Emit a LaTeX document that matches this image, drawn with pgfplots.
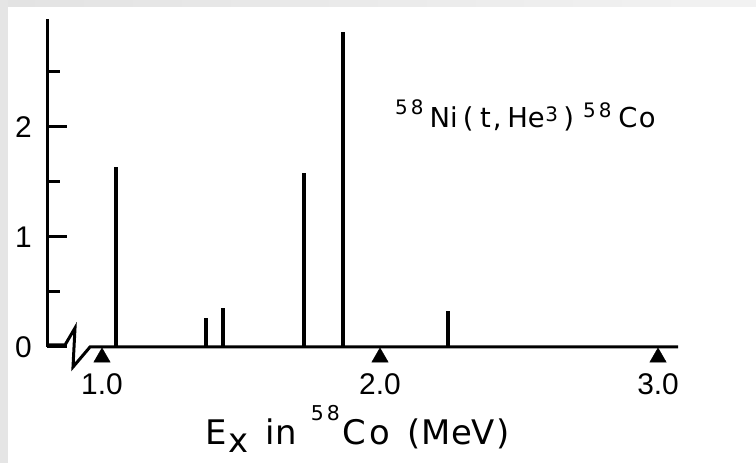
\documentclass[border=0pt]{standalone}
\usepackage{pgfplots}
\pgfplotsset{compat=1.18}
\usepackage{fontspec}
\setmainfont{DejaVu Sans}
\newfontfamily\lib{Liberation Sans}
\newcommand\sups[2]{\raisebox{#1}{\fontsize{20}{20}\selectfont #2}}
\begin{document}
\begin{tikzpicture}[x=1bp,y=1bp]
\fill[white] (0,0) rectangle (756,463);
\fill[gray!20] (0,0) rectangle (8,463);
\shade[left color=gray!22, right color=gray!10] (8,456) rectangle (756,463);
\begin{axis}[
  at={(47bp,116bp)}, anchor=south west,
  scale only axis, width=631bp, height=328bp,
  xmin=0.8022, xmax=3.0719, ymin=0, ymax=2.9818,
  axis x line=bottom, axis y line=left,
  x axis line style={draw=none},
  y axis line style={-, line width=3bp},
  xtick={1,2,3}, xticklabels={1.0,2.0,3.0},
  ytick={0,1,2}, yticklabels={0,1,2},
  minor ytick={0.5,1.5,2.5},
  xtick style={draw=none},
  ytick style={line width=3bp, black},
  tick align=inside,
  major tick length=20bp, minor tick length=13bp,
  xticklabel style={anchor=base, yshift=-48bp, inner sep=0pt, font=\lib\fontsize{30}{31}\selectfont},
  yticklabel style={anchor=east, xshift=-15bp, inner sep=0pt, font=\lib\fontsize{30}{31}\selectfont},
  clip=false,
]
\addplot[ycomb, line width=4bp, black, mark=none] coordinates {
  (1.050,1.64) (1.374,0.26) (1.435,0.35) (1.725,1.58) (1.866,2.86) (2.245,0.33)};
\addplot[only marks, mark=triangle*, mark size=9.5bp, black] coordinates {
  (1,-0.095) (2,-0.095) (3,-0.095)};
\end{axis}
\draw[line width=3bp, line join=miter] (47,118) -- (65,118) -- (75,135) -- (73,96) -- (90,116) -- (678,116);
\node[anchor=base west, inner sep=0pt, font=\fontsize{27.5}{29}\selectfont] at (395,335)
  {\sups{13bp}{5\hspace{3bp}8}\hspace{6bp}Ni\hspace{5.3bp}(\hspace{6.5bp}t\hspace{1.9bp},\hspace{5.9bp}He\hspace{0.4bp}\sups{6bp}{3}\hspace{5.5bp})\hspace{9.1bp}\sups{10bp}{5\hspace{3bp}8}\hspace{6.8bp}C\hspace{1.5bp}o};
\node[anchor=base west, inner sep=0pt, font=\fontsize{34}{36}\selectfont] at (205.6,18)
  {E\hspace{1bp}\raisebox{-8bp}{x}\hspace{17.6bp}in\hspace{14.2bp}\raisebox{24bp}{\fontsize{20.5}{21}\selectfont 5\hspace{3bp}8}\hspace{3bp}C\hspace{3bp}o\hspace{16.8bp}(\hspace{1.5bp}MeV\hspace{1.5bp})};
\end{tikzpicture}
\end{document}
